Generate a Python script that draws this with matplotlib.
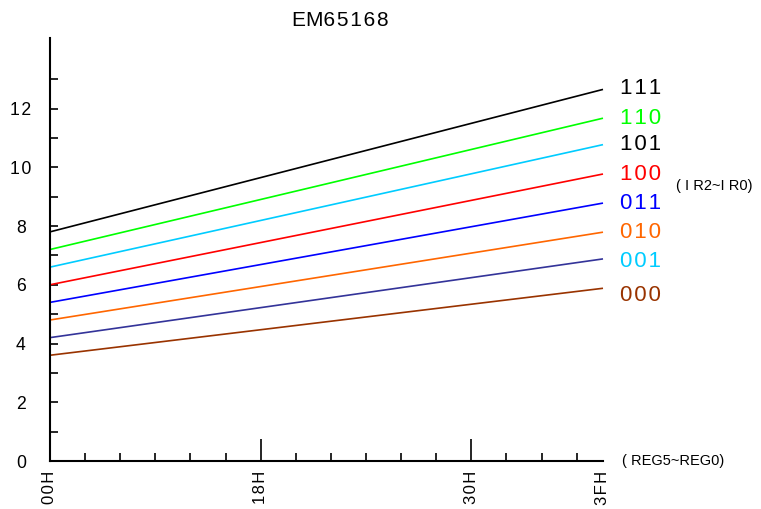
import matplotlib
matplotlib.use("Agg")
import matplotlib.pyplot as plt
import numpy as np

plt.rcParams['font.family'] = ['Liberation Sans', 'DejaVu Sans']

# Data
series_names = ["111", "110", "101", "100", "011", "010", "001", "000"]
start_vals = [7.8, 7.2, 6.6, 6.0, 5.4, 4.8, 4.2, 3.6]
end_vals = [12.65, 11.67, 10.77, 9.77, 8.78, 7.79, 6.88, 5.88]
x_range = [0, 63]
line_colors = ["#000000", "#00ff00", "#00ccff", "#ff0000", "#0000ff", "#ff6600", "#333399", "#993300"]
label_colors = ["#000000", "#00ff00", "#000000", "#ff0000", "#0000ff", "#ff6600", "#00ccff", "#993300"]
label_offsets = [1, 0, 0, 0, 0, 0, -2, -5]  # points

x_tick_pos = [0, 24, 48, 63]
x_tick_labels = ["00H", "18H", "30H", "3FH"]
y_tick_pos = [0, 2, 4, 6, 8, 10, 12]
y_tick_labels = ["0", "2", "4", "6", "8", "10", "12"]


def spaced(s, sp="\u200a"):
    return sp.join(s)


fig = plt.figure(figsize=(7.61, 5.09), dpi=100)
W, H = 761, 509
ax = fig.add_axes([50 / W, 1 - 461 / H, (603 - 50) / W, (461 - 38) / H])
ax.set_xlim(0, 63)
ax.set_ylim(0, 14.4)

for name, s, e, c in zip(series_names, start_vals, end_vals, line_colors):
    ax.plot(x_range, [s, e], color=c, lw=1.2, solid_capstyle='butt', clip_on=False)

for name, e, c, off in zip(series_names, end_vals, label_colors, label_offsets):
    ax.annotate(spaced(name), xy=(63, e), xytext=(12, off), textcoords='offset points',
                color=c, fontsize=16, va='center', ha='left', annotation_clip=False)

for sp in ['top', 'right']:
    ax.spines[sp].set_visible(False)
for sp in ['left', 'bottom']:
    ax.spines[sp].set_linewidth(1.5)

# y ticks
ax.set_yticks(y_tick_pos)
ax.set_yticklabels([spaced(t) for t in y_tick_labels])
ax.set_yticks(np.arange(1, 15, 2), minor=True)
ax.tick_params(axis='y', which='both', direction='in', length=6, width=1.2, pad=21, labelsize=12.7)
for lbl in ax.get_yticklabels():
    lbl.set_horizontalalignment('center')

# x ticks
ax.set_xticks(x_tick_pos)
ax.set_xticklabels([spaced(t) for t in x_tick_labels], rotation=90, va='top', ha='center')
ax.set_xticks([4, 8, 12, 16, 20, 28, 32, 36, 40, 44, 52, 56, 60], minor=True)
ax.tick_params(axis='x', which='major', direction='in', length=16, width=1.2, pad=7, labelsize=12)
ax.tick_params(axis='x', which='minor', direction='in', length=6, width=1.2)
ax.xaxis.get_major_ticks()[-1].tick1line.set_visible(False)

fig.text(340 / W, 1 - 21 / H, "EM" + spaced("65168"), fontsize=15, ha='center', va='center')
fig.text(622 / W, 1 - 461 / H, "( REG5~REG0)", fontsize=10.5, ha='left', va='center')
fig.text(676 / W, 1 - 186 / H, "( I R2~I R0)", fontsize=10.5, ha='left', va='center')

fig.savefig("out.png", dpi=100)
